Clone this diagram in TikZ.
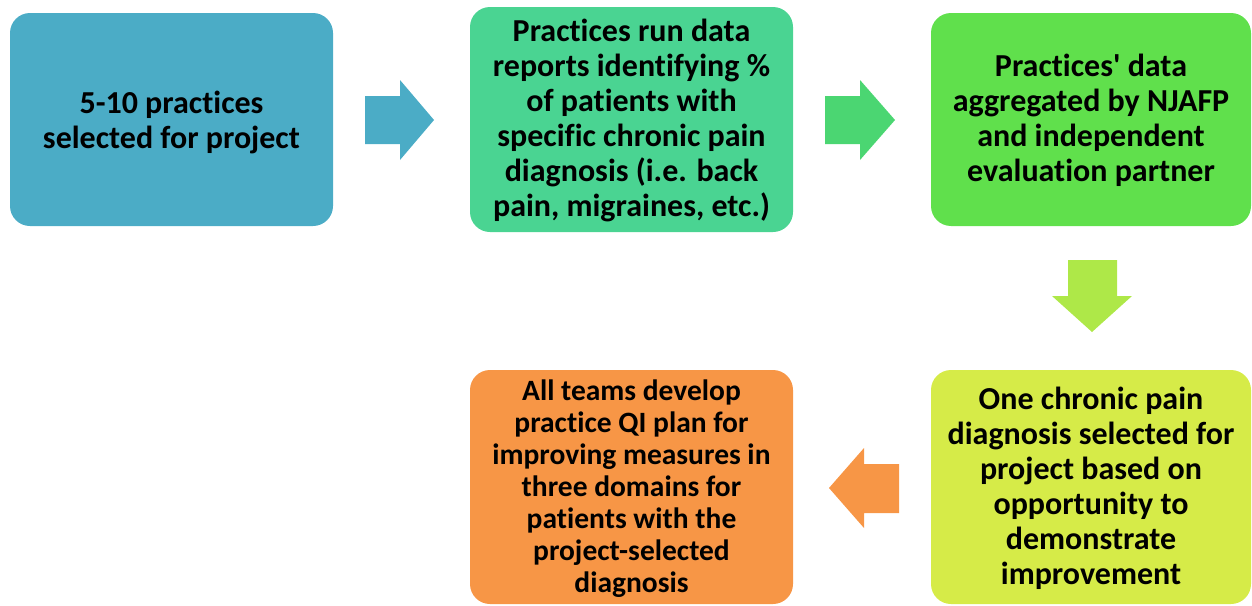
\documentclass[tikz,border=0pt]{standalone}
\usepackage{fontspec}
\setmainfont{Carlito}[Ligatures={NoCommon,TeXOff}]
\begin{document}
\begin{tikzpicture}[x=1pt,y=-1pt,
  stepbox/.style={inner sep=0pt, align=center,
    font=\fontsize{32}{35}\selectfont\bfseries, text=black},
  smallbox/.style={stepbox, font=\fontsize{29.5}{32}\selectfont\bfseries}]
\definecolor{cBlue}{RGB}{75,172,198}
\definecolor{cTeal}{RGB}{74,212,146}
\definecolor{cGreenA}{RGB}{75,214,114}
\definecolor{cGreen}{RGB}{96,224,76}
\definecolor{cLime}{RGB}{174,232,72}
\definecolor{cYellow}{RGB}{214,235,72}
\definecolor{cOrange}{RGB}{247,150,70}
\useasboundingbox (0,0) rectangle (1252,605);

% process boxes
\path[fill=cBlue, rounded corners=20pt] (10,13) rectangle (333,226);
\node[stepbox] (b1) at (171.5,122) {5-10 practices\\selected for project};

\path[fill=cTeal, rounded corners=20pt] (470,7) rectangle (793,232);
\node[stepbox] (b2) at (631.5,120) {Practices run data\\reports identifying \%\\of patients with\\specific chronic pain\\diagnosis (i.e. back\\pain, migraines, etc.)};

\path[fill=cGreen, rounded corners=20pt] (931,13) rectangle (1251,226);
\node[stepbox] (b3) at (1091,120) {Practices' data\\aggregated by NJAFP\\and independent\\evaluation partner};

\path[fill=cYellow, rounded corners=20pt] (931,370) rectangle (1251,604);
\node[stepbox] (b4) at (1091,488) {One chronic pain\\diagnosis selected for\\project based on\\opportunity to\\demonstrate\\improvement};

\path[fill=cOrange, rounded corners=20pt] (470,370) rectangle (793,604);
\node[smallbox] (b5) at (631.5,489) {All teams develop\\practice QI plan for\\improving measures in\\three domains for\\patients with the\\project-selected\\diagnosis};

% block arrows between the steps
\fill[cBlue] (365,96) -- (400,96) -- (400,80) -- (434,120) -- (400,160) -- (400,144) -- (365,144) -- cycle;
\fill[cGreenA] (825,96) -- (860,96) -- (860,80) -- (895,120) -- (860,160) -- (860,144) -- (825,144) -- cycle;
\fill[cLime] (1068,260) -- (1117,260) -- (1117,296) -- (1132,296) -- (1092,332) -- (1052,296) -- (1068,296) -- cycle;
\fill[cOrange] (899,464) -- (864,464) -- (864,448) -- (829,488) -- (864,528) -- (864,513) -- (899,513) -- cycle;
\end{tikzpicture}
\end{document}
